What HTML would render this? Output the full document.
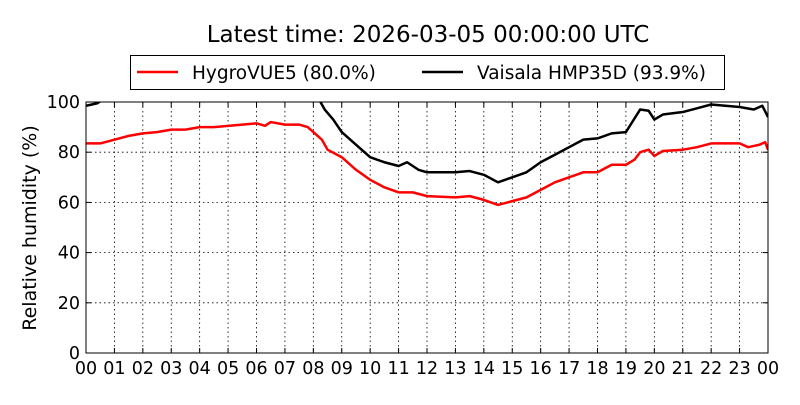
<!DOCTYPE html>
<html><head><meta charset="utf-8"><style>
body{margin:0;background:#fff;}
svg{font-family:"DejaVu Sans","Liberation Sans",sans-serif;}
</style></head><body>
<svg width="800" height="400" viewBox="0 0 800 400">
<text x="428" y="42" font-size="23" text-anchor="middle">Latest time: 2026-03-05 00:00:00 UTC</text>
<g>
<rect x="130.5" y="55.5" width="594" height="34" fill="#fff" stroke="#000" stroke-width="1"/>
<line x1="137" y1="72" x2="178" y2="72" stroke="#f00" stroke-width="2.5"/>
<text x="192" y="79" font-size="18.5">HygroVUE5 (80.0%)</text>
<line x1="422" y1="72" x2="463" y2="72" stroke="#000" stroke-width="2.5"/>
<text x="477" y="79" font-size="18.5">Vaisala HMP35D (93.9%)</text>
</g>
<g id="grid"></g>
<g id="axes"></g>
<defs><clipPath id="pc"><rect x="86" y="102" width="682" height="251"/></clipPath></defs>
<g id="series" clip-path="url(#pc)"></g>
<rect x="86" y="102" width="682" height="251" fill="none" stroke="#000" stroke-width="1"/>
<text transform="translate(36,228) rotate(-90)" font-size="19" text-anchor="middle">Relative humidity (%)</text>
</svg>
<script>
const redHours=[0,0.5,1,1.5,2,2.5,3,3.5,4,4.5,5,5.5,6,6.3,6.5,7,7.5,7.8,8,8.3,8.5,9,9.5,10,10.5,11,11.5,12,13,13.5,14,14.5,15,15.5,16,16.5,17,17.5,18,18.5,19,19.3,19.5,19.8,20,20.3,21,21.5,22,23,23.3,23.7,23.9,24];
const redValues=[83.5,83.5,85,86.5,87.5,88,89,89,90,90,90.5,91,91.5,90.5,92,91,91,90,88,85,81,78,73,69,66,64,64,62.5,62,62.5,61,59,60.5,62,65,68,70,72,72,75,75,77,80,81,78.5,80.5,81,82,83.5,83.5,82,83,84,81];
const blackHours=[0,0.4,0.6,4,8.0,8.2,8.4,8.7,9,9.5,10,10.5,11,11.3,11.7,12,13,13.5,14,14.5,15,15.5,16,16.5,17,17.5,18,18.5,19,19.5,19.8,20,20.3,21,21.5,22,23,23.5,23.8,24];
const blackValues=[98.5,99.5,101,105,105,101,97,93,88,83,78,76,74.5,76,73,72,72,72.5,71,68,70,72,76,79,82,85,85.5,87.5,88,97,96.5,93,95,96,97.5,99,98,97,98.5,94];
const yTicks=[0,20,40,60,80,100];
const xTicks=["00","01","02","03","04","05","06","07","08","09","10","11","12","13","14","15","16","17","18","19","20","21","22","23","00"];
const X0=86,X1=768,Y0=353,Y1=102;
const sx=h=>X0+(X1-X0)*h/24, sy=v=>Y0-(Y0-Y1)*v/100;
const NS="http://www.w3.org/2000/svg";
const grid=document.getElementById('grid'),axes=document.getElementById('axes'),ser=document.getElementById('series');
function mk(tag,attrs,parent){const e=document.createElementNS(NS,tag);for(const k in attrs)e.setAttribute(k,attrs[k]);parent.appendChild(e);return e;}
yTicks.forEach(v=>{
 const y=sy(v);
 const g=mk('line',{x1:X0,x2:X1,y1:y,y2:y,stroke:'#000','stroke-width':0.8,'stroke-dasharray':'1.5,3'},grid);
 
 
 mk('line',{x1:X0,x2:X0+5,y1:y,y2:y,stroke:'#000'},axes);
 mk('line',{x1:X1-5,x2:X1,y1:y,y2:y,stroke:'#000'},axes);
 const t=mk('text',{x:X0-6,y:y+6,'font-size':17.5,'text-anchor':'end'},axes);
 t.textContent=v;
 
 
});
xTicks.forEach((l,i)=>{
 const x=sx(i);
 const g=mk('line',{x1:x,x2:x,y1:Y1,y2:Y0,stroke:'#000','stroke-width':0.8,'stroke-dasharray':'1.5,3'},grid);
 
 
 mk('line',{x1:x,x2:x,y1:Y0-5,y2:Y0,stroke:'#000'},axes);
 mk('line',{x1:x,x2:x,y1:Y1,y2:Y1+5,stroke:'#000'},axes);
 const t=mk('text',{x:x,y:Y0+21,'font-size':17.5,'text-anchor':'middle'},axes);
 t.textContent=l;
 
 
});
function line(hs,vs,color,name){
 const p=mk('polyline',{points:hs.map((h,i)=>sx(h)+','+sy(vs[i])).join(' '),fill:'none',stroke:color,'stroke-width':2.5,'stroke-linejoin':'round'},ser);
 
 
}
line(blackHours,blackValues,'#000','vaisala-line');
line(redHours,redValues,'#f00','hygrovue5-line');
</script>
</body></html>
